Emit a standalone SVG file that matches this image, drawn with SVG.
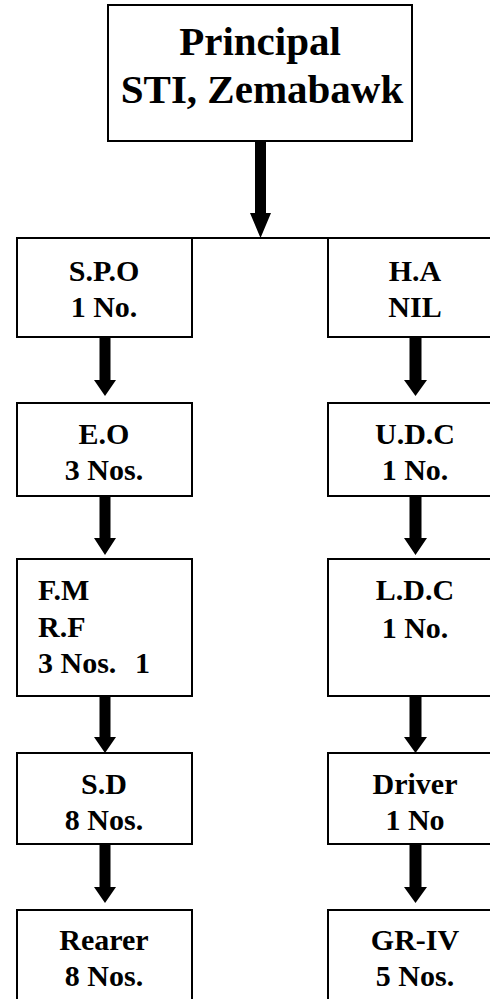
<svg xmlns="http://www.w3.org/2000/svg" width="490" height="999" viewBox="0 0 490 999">
<style>
.box{fill:#fff;stroke:#000;stroke-width:2}
.t{font-family:"Liberation Serif","Times New Roman",serif;font-weight:bold;font-size:30px;fill:#000;text-anchor:middle}
.tl{text-anchor:start}
.big{font-size:41px}
.ar{fill:#000}
</style>
<rect width="490" height="999" fill="#fff"/>
<g id="connectors">
<line x1="192" y1="238" x2="328" y2="238" stroke="#000" stroke-width="2"/>
<polygon class="ar" points="255,141 266,141 266,213 271,213 260.5,238 250,213 255,213"/>
<polygon class="ar" points="99.5,337 110.5,337 110.5,380 116,380 105,396 94,380 99.5,380"/>
<polygon class="ar" points="99.5,496 110.5,496 110.5,538 116,538 105,555 94,538 99.5,538"/>
<polygon class="ar" points="99.5,696 110.5,696 110.5,737 116,737 105,753 94,737 99.5,737"/>
<polygon class="ar" points="99.5,844 110.5,844 110.5,887 116,887 105,903 94,887 99.5,887"/>
<polygon class="ar" points="409.5,337 421.5,337 421.5,380 427,380 415.5,396 404,380 409.5,380"/>
<polygon class="ar" points="409.5,496 421.5,496 421.5,538 427,538 415.5,555 404,538 409.5,538"/>
<polygon class="ar" points="409.5,696 421.5,696 421.5,737 427,737 415.5,753 404,737 409.5,737"/>
<polygon class="ar" points="409.5,844 421.5,844 421.5,887 427,887 415.5,903 404,887 409.5,887"/>
</g>
<g id="principal">
<rect class="box" x="108" y="5" width="304" height="136"/>
<text class="t big" x="260" y="55">Principal</text>
<text class="t big" x="262" y="103">STI, Zemabawk</text>
</g>
<g id="spo">
<rect class="box" x="17" y="238" width="175" height="99"/>
<text class="t" x="104" y="281">S.P.O</text>
<text class="t" x="104" y="317">1 No.</text>
</g>
<g id="ha">
<rect class="box" x="328" y="238" width="175" height="99"/>
<text class="t" x="415" y="281">H.A</text>
<text class="t" x="415" y="317">NIL</text>
</g>
<g id="eo">
<rect class="box" x="17" y="403" width="175" height="93"/>
<text class="t" x="104" y="444">E.O</text>
<text class="t" x="104" y="480">3 Nos.</text>
</g>
<g id="udc">
<rect class="box" x="328" y="403" width="175" height="93"/>
<text class="t" x="415" y="444">U.D.C</text>
<text class="t" x="415" y="480">1 No.</text>
</g>
<g id="fm">
<rect class="box" x="17" y="559" width="175" height="137"/>
<text class="t tl" x="38" y="600">F.M</text>
<text class="t tl" x="38" y="637">R.F</text>
<text class="t tl" x="38" y="673">3 Nos.<tspan x="135">1</tspan></text>
</g>
<g id="ldc">
<rect class="box" x="328" y="559" width="175" height="137"/>
<text class="t" x="415" y="600">L.D.C</text>
<text class="t" x="415" y="638">1 No.</text>
</g>
<g id="sd">
<rect class="box" x="17" y="753" width="175" height="91"/>
<text class="t" x="104" y="794">S.D</text>
<text class="t" x="104" y="830">8 Nos.</text>
</g>
<g id="driver">
<rect class="box" x="328" y="753" width="175" height="91"/>
<text class="t" x="415" y="794">Driver</text>
<text class="t" x="415" y="830">1 No</text>
</g>
<g id="rearer">
<rect class="box" x="17" y="910" width="175" height="100"/>
<text class="t" x="104" y="950">Rearer</text>
<text class="t" x="104" y="986">8 Nos.</text>
</g>
<g id="gr4">
<rect class="box" x="328" y="910" width="175" height="100"/>
<text class="t" x="415" y="950">GR-IV</text>
<text class="t" x="415" y="986">5 Nos.</text>
</g>
</svg>
